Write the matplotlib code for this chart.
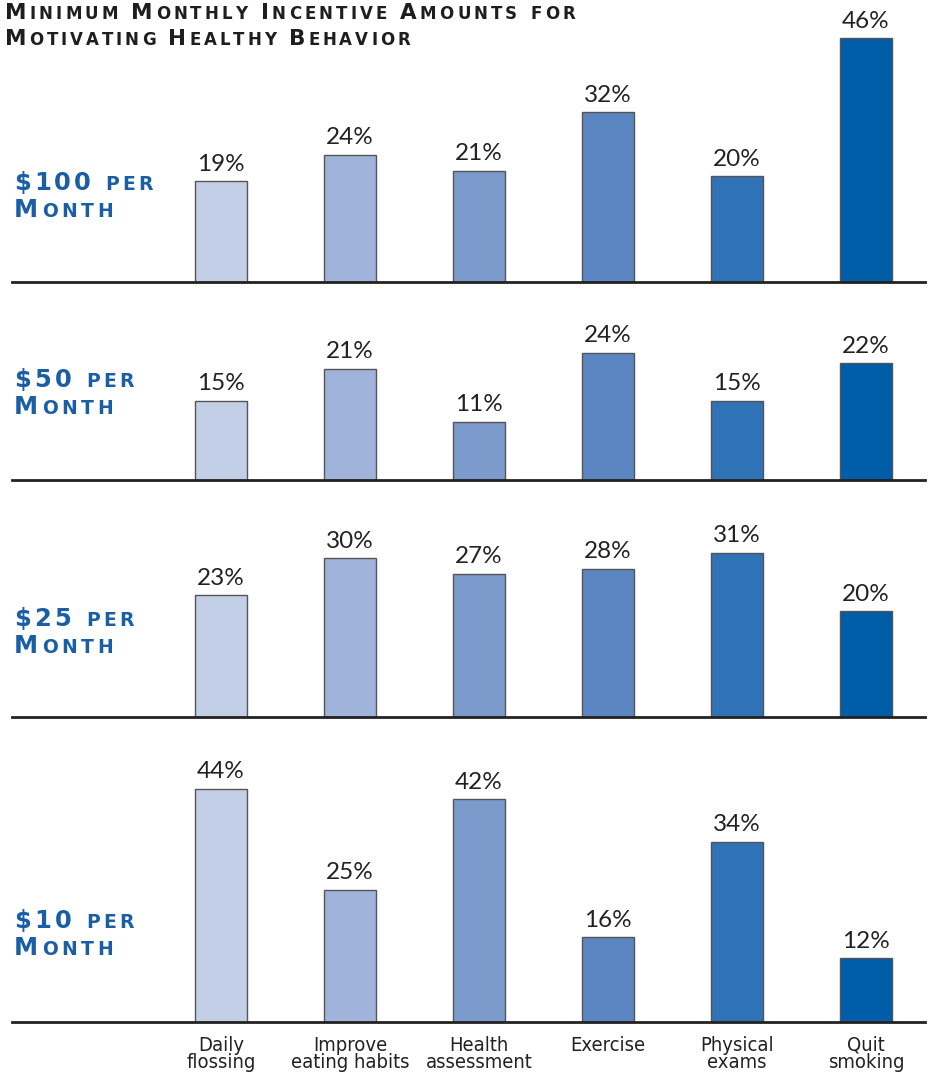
import matplotlib
matplotlib.use('Agg')
import matplotlib.pyplot as plt
from matplotlib import font_manager

# data
categories = ['Daily\nflossing', 'Improve\neating habits', 'Health\nassessment',
              'Exercise', 'Physical\nexams', 'Quit\nsmoking']
row_labels = ['$100 per\nMonth', '$50 per\nMonth', '$25 per\nMonth', '$10 per\nMonth']
pct_100 = [19, 24, 21, 32, 20, 46]
pct_50 = [15, 21, 11, 24, 15, 22]
pct_25 = [23, 30, 27, 28, 31, 20]
pct_10 = [44, 25, 42, 16, 34, 12]
rows = [pct_100, pct_50, pct_25, pct_10]

bar_colors = ['#C3CFE6', '#A0B3DA', '#7C9ACB', '#5C86C1', '#2F72B5', '#005DA8']
label_blue = '#1A5EA6'

W, H = 936, 1073
fig = plt.figure(figsize=(W / 100, H / 100), dpi=100)
renderer = fig.canvas.get_renderer()

fonts = font_manager.fontManager.ttflist
names = {f.name for f in fonts}
num_font = 'Lato' if 'Lato' in names else 'DejaVu Sans'
# a narrow face for the category labels, if one is around
cat_kw = dict(family='DejaVu Sans', fontsize=13.5)
if 'Liberation Sans Narrow' in names:
    cat_kw = dict(family='Liberation Sans Narrow', fontsize=15)
elif any(f.name == 'DejaVu Sans' and f.stretch == 'condensed' for f in fonts):
    cat_kw = dict(family='DejaVu Sans', stretch='condensed', fontsize=14.5)


def text_w(s, size, weight):
    t = fig.text(0, 0, s, fontsize=size, weight=weight, family='DejaVu Sans')
    w = t.get_window_extent(renderer).width
    t.remove()
    return w


def small_caps(x, y, text, big, small, color, width, weight='normal'):
    # x, y in pixels from the top-left; lowercase letters become smaller capitals,
    # letters spaced out so the line spans `width` pixels like the wide original face
    chars = [(ch.upper(), small if ch.islower() else big) for ch in text]
    adv = [text_w(c, s, weight) if c != ' ' else s * 100 / 72 * 0.32 for c, s in chars]
    track = (width - sum(adv)) / (len(chars) - 1)
    cur = x
    for (c, s), a in zip(chars, adv):
        if c != ' ':
            fig.text(cur / W, 1 - y / H, c, fontsize=s, color=color, weight=weight,
                     family='DejaVu Sans', ha='left', va='baseline')
        cur += a + track


# title
small_caps(5, 19, 'Minimum Monthly Incentive Amounts for', 15.5, 12, '#1E1E1E', 570, weight='bold')
small_caps(5, 45, 'Motivating Healthy Behavior', 15.5, 12, '#1E1E1E', 405, weight='bold')

# panel geometry in pixels (baseline, top of panel)
baselines = [282, 480, 717, 1022]
tops = [0, 282, 480, 717]
px_per_pct = 5.3
x_left_px, x_right_px = 12, 925
first_bar_px, step_px = 221, 129

# row label placement and widths of its two lines
label_base = [190, 387, 626, 928]
label_w1 = [139, 120, 120, 120]
label_w2 = 99

xs = list(range(len(categories)))
for i, vals in enumerate(rows):
    b, t = baselines[i], tops[i]
    ax = fig.add_axes([x_left_px / W, 1 - b / H, (x_right_px - x_left_px) / W, (b - t) / H])
    ax.set_xlim((x_left_px - first_bar_px) / step_px, (x_right_px - first_bar_px) / step_px)
    ax.set_ylim(0, (b - t) / px_per_pct)
    ax.bar(xs, vals, width=52 / step_px, color=bar_colors, edgecolor='#555555', linewidth=1.0, zorder=2)
    for x, v in zip(xs, vals):
        ax.annotate(f'{v}%', (x, v), xytext=(0, 7.5), textcoords='offset points',
                    ha='center', va='baseline', fontsize=17.5, family=num_font,
                    color='#222222', annotation_clip=False)
    for side in ['top', 'left', 'right']:
        ax.spines[side].set_visible(False)
    ax.spines['bottom'].set_linewidth(2)
    ax.spines['bottom'].set_color('#222222')
    ax.spines['bottom'].set_zorder(3)
    ax.set_yticks([])
    ax.patch.set_alpha(0)
    if i == len(rows) - 1:
        ax.set_xticks(xs)
        ax.set_xticklabels(categories, color='#222222', linespacing=0.85, **cat_kw)
        ax.tick_params(axis='x', length=0, pad=10)
    else:
        ax.set_xticks([])

    line1, line2 = row_labels[i].split('\n')
    small_caps(14, label_base[i], line1, 17.5, 13.5, label_blue, label_w1[i], weight='bold')
    small_caps(14, label_base[i] + 27, line2, 17.5, 13.5, label_blue, label_w2, weight='bold')

fig.savefig('out.png', dpi=100)
